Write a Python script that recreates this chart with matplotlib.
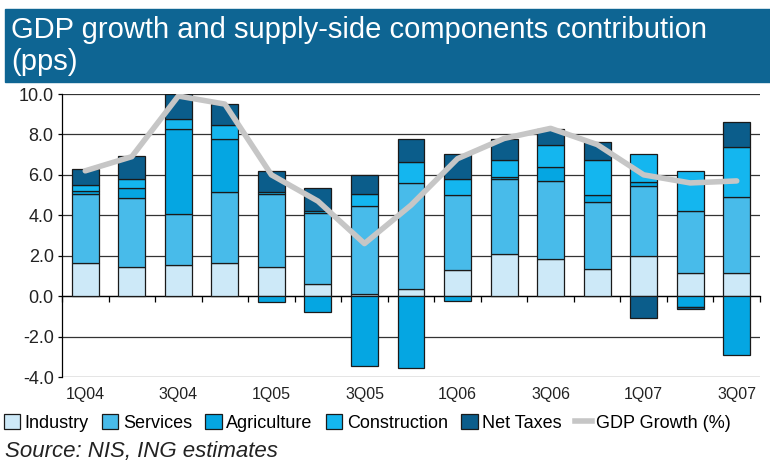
import numpy as np
import matplotlib
matplotlib.use("Agg")
import matplotlib.pyplot as plt
from matplotlib.patches import Rectangle, Patch
from matplotlib.lines import Line2D
from matplotlib.transforms import blended_transform_factory

plt.rcParams['font.family'] = ['Liberation Sans', 'DejaVu Sans']

quarters = ['1Q04', '2Q04', '3Q04', '4Q04', '1Q05', '2Q05', '3Q05', '4Q05',
            '1Q06', '2Q06', '3Q06', '4Q06', '1Q07', '2Q07', '3Q07']
industry     = [1.64, 1.45, 1.55, 1.66, 1.44, 0.62, 0.12, 0.36, 1.27, 2.09, 1.83, 1.34, 2.00, 1.16, 1.16]
services     = [3.40, 3.42, 2.50, 3.51, 3.60, 3.48, 4.36, 5.23, 3.71, 3.70, 3.87, 3.30, 3.43, 3.07, 3.73]
agriculture  = [0.15, 0.47, 4.20, 2.61, -0.30, -0.80, -3.45, -3.55, -0.22, 0.10, 0.68, 0.35, 0.20, -0.52, -2.90]
construction = [0.30, 0.45, 0.52, 0.71, 0.12, 0.13, 0.56, 1.04, 0.82, 0.86, 1.10, 1.75, 1.40, 1.94, 2.49]
net_taxes    = [0.80, 1.15, 1.23, 1.00, 1.03, 1.14, 0.93, 1.16, 1.22, 1.04, 0.77, 0.90, -1.06, -0.13, 1.24]
gdp_growth   = [6.2, 6.9, 9.9, 9.5, 6.0, 4.7, 2.6, 4.5, 6.8, 7.8, 8.3, 7.5, 6.0, 5.6, 5.7]

series = [('Industry', industry, '#cde9f8'),
          ('Services', services, '#48bbea'),
          ('Agriculture', agriculture, '#05a6e2'),
          ('Construction', construction, '#14b6ef'),
          ('Net Taxes', net_taxes, '#0b5d8b')]

yticks = [-4, -2, 0, 2, 4, 6, 8, 10]
ylabels = ['-4.0', '-2.0', '0.0', '2.0', '4.0', '6.0', '8.0', '10.0']

fig = plt.figure(figsize=(7.7, 4.61), dpi=100)
ax = fig.add_axes([62 / 770, 1 - 377 / 461, 698 / 770, 283 / 461])

x = np.arange(len(quarters))
pos_base = np.zeros(len(x))
neg_base = np.zeros(len(x))
for name, vals, col in series:
    v = np.array(vals)
    bottom = np.where(v >= 0, pos_base, neg_base)
    ax.bar(x, v, 0.58, bottom=bottom, color=col, edgecolor='#1a1a1a',
           linewidth=0.9, zorder=3)
    pos_base += np.where(v >= 0, v, 0)
    neg_base += np.where(v < 0, v, 0)

ax.plot(x, gdp_growth, color='#c6c6c6', lw=4, solid_joinstyle='round',
        solid_capstyle='round', zorder=4)

ax.set_xlim(-0.5, len(x) - 0.5)
ax.set_ylim(-4, 10)
ax.set_yticks(yticks)
ax.set_yticklabels(ylabels, fontsize=13, color='#222222')
ax.yaxis.grid(True, color='#333333', lw=0.9, zorder=1)
ax.tick_params(axis='y', direction='out', length=3, width=0.9, pad=3)

# category axis sits on zero, with ticks between the bars
ax.spines['bottom'].set_position(('data', 0))
ax.spines['bottom'].set_linewidth(0.9)
ax.set_xticks(np.arange(len(x) + 1) - 0.5)
ax.set_xticklabels([])
ax.tick_params(axis='x', direction='out', length=4, width=0.9)
for s in ['top', 'right']:
    ax.spines[s].set_visible(False)
ax.spines['left'].set_linewidth(0.9)

trans = blended_transform_factory(ax.transData, ax.transAxes)
for i in range(0, len(quarters), 2):
    ax.text(x[i], -0.035, quarters[i], transform=trans, ha='center', va='top',
            fontsize=11.5, color='#222222')

# title banner
fig.patches.append(Rectangle((5 / 770, 1 - 82 / 461), 1, 73 / 461,
                             transform=fig.transFigure, color='#0e6593', zorder=0))
fig.text(11 / 770, 1 - 46 / 461, 'GDP growth and supply-side components contribution\n(pps)',
         color='white', fontsize=21, va='center', ha='left', linespacing=1.2)

handles = [Patch(facecolor=c, edgecolor='#1a1a1a', linewidth=0.9) for _, _, c in series]
handles.append(Line2D([], [], color='#c6c6c6', lw=4))
labels = [n for n, _, _ in series] + ['GDP Growth (%)']
fig.legend(handles, labels, loc='center left', bbox_to_anchor=(0.0, 1 - 423 / 461),
           ncol=6, frameon=False, fontsize=13, handlelength=0.9, handleheight=0.9,
           handletextpad=0.25, columnspacing=0.75, borderaxespad=0, borderpad=0.2)

fig.text(5 / 770, 1 - 451 / 461, 'Source: NIS, ING estimates', style='italic',
         fontsize=16, va='center', ha='left', color='#222222')

fig.savefig('out.png', dpi=100)
